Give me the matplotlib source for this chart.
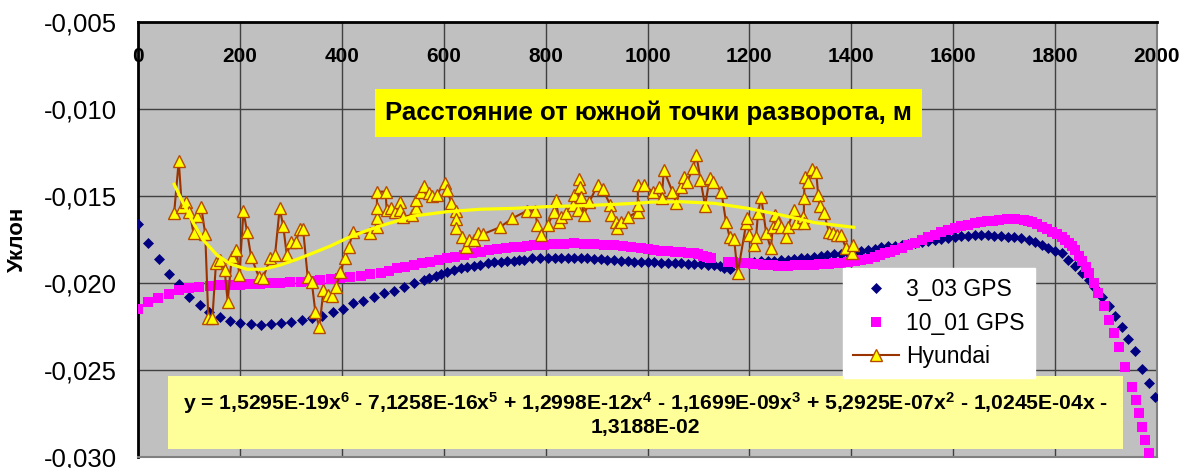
import matplotlib
matplotlib.use('Agg')
import matplotlib.pyplot as plt
from matplotlib.patches import Rectangle

plt.rcParams['font.family'] = ['Liberation Sans', 'DejaVu Sans']
plt.rcParams['mathtext.default'] = 'regular'

# axis ticks
x_ticks = [0, 200, 400, 600, 800, 1000, 1200, 1400, 1600, 1800, 2000]
y_ticks = [-0.030, -0.025, -0.020, -0.015, -0.010, -0.005]
y_tick_labels = ['-0,030', '-0,025', '-0,020', '-0,015', '-0,010', '-0,005']

# 3_03 GPS (navy diamonds)
gps3_x = [0, 20, 41, 61, 81, 100, 121, 140, 160, 180, 201, 222, 242, 262, 281, 301, 321, 342,
          362, 382, 402, 422, 442, 463, 482, 502, 522, 541, 562, 572, 584, 595, 607, 620, 633,
          646, 659, 672, 686, 699, 712, 725, 738, 748, 758, 774, 789, 804, 818, 830, 843, 856,
          869, 882, 895, 908, 921, 935, 948, 961, 974, 987, 1000, 1013, 1026, 1040, 1053, 1066,
          1079, 1092, 1105, 1118, 1131, 1142, 1150, 1162, 1209, 1222, 1236, 1249, 1262, 1275,
          1288, 1301, 1314, 1327, 1340, 1353, 1367, 1380, 1394, 1407, 1420, 1433, 1446, 1459,
          1472, 1486, 1499, 1512, 1525, 1538, 1551, 1564, 1577, 1590, 1603, 1616, 1629, 1642,
          1655, 1668, 1681, 1694, 1707, 1720, 1733, 1748, 1761, 1774, 1787, 1800, 1813, 1826,
          1839, 1853, 1866, 1879, 1892, 1905, 1918, 1931, 1944, 1957, 1970, 1984, 1997]
gps3_y = [-0.01661, -0.01768, -0.01864, -0.01950, -0.02006, -0.02082, -0.02125, -0.02165,
          -0.02194, -0.02217, -0.02232, -0.02237, -0.02243, -0.02236, -0.02232, -0.02224,
          -0.02214, -0.02201, -0.02188, -0.02167, -0.02148, -0.02117, -0.02102, -0.02079,
          -0.02059, -0.02044, -0.02021, -0.02002, -0.01983, -0.01972, -0.01960, -0.01948,
          -0.01935, -0.01925, -0.01916, -0.01909, -0.01902, -0.01894, -0.01887, -0.01882,
          -0.01878, -0.01875, -0.01872, -0.01870, -0.01868, -0.01858, -0.01858, -0.01858,
          -0.01857, -0.01858, -0.01858, -0.01858, -0.01857, -0.01858, -0.01861, -0.01864,
          -0.01866, -0.01870, -0.01872, -0.01874, -0.01877, -0.01879, -0.01880, -0.01882,
          -0.01883, -0.01884, -0.01886, -0.01887, -0.01889, -0.01890, -0.01892, -0.01895,
          -0.01898, -0.01905, -0.01916, -0.01918, -0.01878, -0.01876, -0.01874, -0.01872,
          -0.01870, -0.01866, -0.01862, -0.01858, -0.01855, -0.01850, -0.01846, -0.01841,
          -0.01836, -0.01831, -0.01826, -0.01822, -0.01818, -0.01812, -0.01803, -0.01795,
          -0.01790, -0.01786, -0.01780, -0.01774, -0.01768, -0.01763, -0.01758, -0.01752,
          -0.01747, -0.01742, -0.01737, -0.01732, -0.01728, -0.01724, -0.01723, -0.01725,
          -0.01728, -0.01730, -0.01733, -0.01735, -0.01742, -0.01752, -0.01766, -0.01783,
          -0.01801, -0.01815, -0.01829, -0.01865, -0.01900, -0.01944, -0.01985, -0.02030,
          -0.02079, -0.02135, -0.02190, -0.02251, -0.02320, -0.02390, -0.02495, -0.02575,
          -0.02653]

# 10_01 GPS (magenta squares)
gps10_x = [0, 20, 40, 60, 81, 100, 120, 142, 161, 181, 201, 220, 240, 260, 279, 299, 319, 338,
           358, 378, 397, 417, 437, 456, 476, 492, 509, 525, 541, 558, 574, 590, 607, 623, 640,
           656, 673, 689, 705, 722, 738, 751, 764, 777, 797, 817, 836, 856, 876, 895, 915, 935,
           951, 968, 987, 1000, 1013, 1026, 1040, 1053, 1066, 1079, 1092, 1100, 1109, 1117,
           1125, 1158, 1167, 1177, 1197, 1207, 1216, 1226, 1236, 1246, 1256, 1266, 1276, 1289,
           1302, 1315, 1327, 1337, 1347, 1357, 1367, 1380, 1394, 1407, 1420, 1433, 1446, 1456,
           1466, 1476, 1486, 1499, 1512, 1525, 1538, 1551, 1564, 1577, 1590, 1603, 1616, 1630,
           1643, 1655, 1666, 1678, 1689, 1705, 1721, 1738, 1746, 1754, 1764, 1774, 1784, 1794,
           1804, 1813, 1820, 1827, 1834, 1840, 1847, 1853, 1860, 1866, 1876, 1885, 1895, 1905,
           1915, 1925, 1938, 1951, 1958, 1964, 1971, 1977, 1984, 1990]
gps10_y = [-0.02149, -0.02111, -0.02088, -0.02063, -0.02040, -0.02027, -0.02021, -0.02016,
           -0.02013, -0.02011, -0.02010, -0.02008, -0.02006, -0.02002, -0.01998, -0.01996,
           -0.01993, -0.01987, -0.01983, -0.01979, -0.01973, -0.01967, -0.01960, -0.01950,
           -0.01941, -0.01930, -0.01916, -0.01906, -0.01897, -0.01887, -0.01878, -0.01868,
           -0.01858, -0.01848, -0.01839, -0.01830, -0.01820, -0.01813, -0.01806, -0.01800,
           -0.01795, -0.01791, -0.01787, -0.01782, -0.01779, -0.01776, -0.01774, -0.01772,
           -0.01774, -0.01776, -0.01779, -0.01782, -0.01786, -0.01791, -0.01801, -0.01806,
           -0.01810, -0.01814, -0.01817, -0.01820, -0.01822, -0.01825, -0.01829, -0.01836,
           -0.01843, -0.01850, -0.01858, -0.01878, -0.01880, -0.01883, -0.01887, -0.01890,
           -0.01892, -0.01895, -0.01897, -0.01899, -0.01900, -0.01900, -0.01900, -0.01899,
           -0.01897, -0.01896, -0.01895, -0.01892, -0.01890, -0.01888, -0.01887, -0.01884,
           -0.01880, -0.01875, -0.01868, -0.01860, -0.01850, -0.01840, -0.01830, -0.01820,
           -0.01810, -0.01796, -0.01782, -0.01768, -0.01753, -0.01738, -0.01723, -0.01709,
           -0.01695, -0.01685, -0.01675, -0.01666, -0.01657, -0.01651, -0.01645, -0.01641,
           -0.01638, -0.01635, -0.01634, -0.01640, -0.01645, -0.01650, -0.01662, -0.01676,
           -0.01690, -0.01705, -0.01719, -0.01734, -0.01752, -0.01770, -0.01790, -0.01810,
           -0.01842, -0.01875, -0.01910, -0.01944, -0.02000, -0.02059, -0.02135, -0.02213,
           -0.02290, -0.02366, -0.02481, -0.02596, -0.02670, -0.02749, -0.02825, -0.02902,
           -0.02979, -0.03060]

# Hyundai (brown line, yellow triangles)
hy_x = [71, 80, 86, 94, 101, 109, 115, 124, 132, 138, 146, 153, 161, 170, 176, 184, 193, 199,
        207, 214, 222, 237, 245, 260, 269, 278, 285, 292, 300, 310, 317, 324, 333, 341, 348,
        356, 364, 373, 381, 389, 397, 406, 414, 422, 456, 469, 469, 469, 469, 486, 488, 496,
        505, 515, 515, 520, 538, 546, 546, 555, 562, 571, 577, 586, 602, 607, 615, 624, 625,
        625, 636, 644, 650, 659, 667, 678, 710, 735, 764, 779, 784, 791, 804, 817, 820, 827,
        830, 840, 853, 856, 863, 866, 868, 869, 875, 886, 902, 912, 927, 929, 938, 941, 948,
        961, 981, 981, 981, 993, 1010, 1023, 1028, 1032, 1049, 1056, 1065, 1072, 1078, 1089,
        1096, 1104, 1113, 1122, 1128, 1145, 1154, 1161, 1170, 1177, 1194, 1196, 1200, 1209,
        1213, 1217, 1223, 1233, 1242, 1246, 1251, 1256, 1262, 1272, 1276, 1287, 1292, 1305,
        1307, 1307, 1309, 1315, 1322, 1331, 1335, 1338, 1346, 1356, 1364, 1371, 1379, 1390,
        1402, 1404]
hy_y = [-0.01596, -0.01297, -0.01561, -0.01533, -0.01590, -0.01714, -0.01615, -0.01561,
        -0.01720, -0.02203, -0.02203, -0.01887, -0.01868, -0.01925, -0.02107, -0.01849,
        -0.01810, -0.01954, -0.01586, -0.01705, -0.01849, -0.01964, -0.01973, -0.01858,
        -0.01839, -0.01571, -0.01672, -0.01839, -0.01763, -0.01766, -0.01691, -0.01691,
        -0.01964, -0.01992, -0.02165, -0.02255, -0.02040, -0.02069, -0.02075, -0.02021,
        -0.01935, -0.01858, -0.01791, -0.01705, -0.01714, -0.01680, -0.01628, -0.01571,
        -0.01475, -0.01475, -0.01580, -0.01571, -0.01590, -0.01533, -0.01580, -0.01620,
        -0.01609, -0.01571, -0.01523, -0.01479, -0.01443, -0.01484, -0.01500, -0.01494,
        -0.01423, -0.01466, -0.01542, -0.01584, -0.01634, -0.01686, -0.01734, -0.01791,
        -0.01753, -0.01753, -0.01711, -0.01718, -0.01680, -0.01628, -0.01584, -0.01584,
        -0.01667, -0.01724, -0.01667, -0.01590, -0.01523, -0.01648, -0.01622, -0.01600,
        -0.01552, -0.01494, -0.01580, -0.01404, -0.01446, -0.01504, -0.01609, -0.01533,
        -0.01437, -0.01461, -0.01552, -0.01609, -0.01648, -0.01686, -0.01648, -0.01622,
        -0.01590, -0.01552, -0.01437, -0.01437, -0.01475, -0.01446, -0.01513, -0.01351,
        -0.01475, -0.01542, -0.01450, -0.01389, -0.01418, -0.01341, -0.01264, -0.01408,
        -0.01557, -0.01398, -0.01418, -0.01475, -0.01648, -0.01734, -0.01749, -0.01944,
        -0.01653, -0.01628, -0.01724, -0.01782, -0.01737, -0.01596, -0.01504, -0.01714,
        -0.01801, -0.01680, -0.01609, -0.01657, -0.01676, -0.01734, -0.01676, -0.01580,
        -0.01657, -0.01619, -0.01657, -0.01513, -0.01389, -0.01418, -0.01347, -0.01360,
        -0.01494, -0.01557, -0.01596, -0.01705, -0.01714, -0.01724, -0.01724, -0.01801,
        -0.01829, -0.01782]

# Hyundai polynomial trend (yellow)
trend_x = [71, 89, 109, 128, 155, 181, 214, 246, 279, 312, 345, 378, 410, 443, 476, 541, 607,
           673, 738, 804, 869, 935, 987, 1007, 1066, 1131, 1197, 1262, 1328, 1405]
trend_y = [-0.01433, -0.01542, -0.01657, -0.01753, -0.01839, -0.01891, -0.01921, -0.01921,
           -0.01897, -0.01864, -0.01826, -0.01787, -0.01743, -0.01705, -0.01672, -0.01615,
           -0.01590, -0.01576, -0.01571, -0.01561, -0.01556, -0.01548, -0.01540, -0.01535,
           -0.01533, -0.01542, -0.01571, -0.01609, -0.01653, -0.01680]

x_title = 'Расстояние от южной точки разворота, м'
y_title = 'Уклон'
eq_line1 = ('y = 1,5295E-19x$^{6}$ - 7,1258E-16x$^{5}$ + 1,2998E-12x$^{4}$ - '
            '1,1699E-09x$^{3}$ + 5,2925E-07x$^{2}$ - 1,0245E-04x -')
eq_line2 = '1,3188E-02'

W, H = 1184, 468
fig = plt.figure(figsize=(W / 100, H / 100), dpi=100)
ax = fig.add_axes([138 / W, 11 / H, 1019 / W, 435 / H])
ax.set_facecolor('#C0C0C0')

ax.plot(gps3_x, gps3_y, ls='none', marker='D', ms=5.6, mfc='#000080', mec='#000080',
        mew=0.5, label='3_03 GPS', zorder=3)
ax.plot(gps10_x, gps10_y, ls='none', marker='s', ms=7.2, mfc='#FF00FF', mec='#FF00FF',
        mew=0, label='10_01 GPS', zorder=3)
ax.plot(hy_x, hy_y, color='#993300', lw=1.5, marker='^', ms=8, mfc='#FFFF00',
        mec='#B84A00', mew=1, label='Hyundai', zorder=4)
ax.plot(trend_x, trend_y, color='#FFFF00', lw=2.3, zorder=5)

ax.set_xlim(0, 2000)
ax.set_ylim(-0.030, -0.005)
ax.set_xticks(x_ticks)
ax.set_xticklabels([str(v) for v in x_ticks], fontsize=15, fontweight='bold')
ax.set_yticks(y_ticks)
ax.set_yticklabels(y_tick_labels, fontsize=18.5)
ax.xaxis.tick_top()
ax.tick_params(axis='x', length=0, pad=-32)
ax.tick_params(axis='y', length=0, pad=15)
ax.grid(True, color='#404040', lw=1.0)
ax.set_axisbelow(True)

for s in ['left', 'top']:
    ax.spines[s].set_color('black')
    ax.spines[s].set_linewidth(2)
for s in ['right', 'bottom']:
    ax.spines[s].set_color('#808080')
    ax.spines[s].set_linewidth(1.5)

ax.set_ylabel(y_title, fontsize=16, fontweight='bold', va='center')
ax.yaxis.set_label_coords(-0.118, 0.5)

# x axis title box inside the plot
ax.add_patch(Rectangle((0.2326, 0.7356), 0.5368, 0.1103, transform=ax.transAxes,
                       facecolor='#FFFF00', edgecolor='none', zorder=6))
ax.text(0.501, 0.791, x_title, transform=ax.transAxes, ha='center', va='center',
        fontsize=18.5, fontweight='bold', zorder=7)

# trend equation box
ax.add_patch(Rectangle((0.0294, 0.0184), 0.9372, 0.1678, transform=ax.transAxes,
                       facecolor='#FFFF99', edgecolor='none', zorder=6))
ax.text(0.498, (457 - 403) / 435, eq_line1, transform=ax.transAxes, ha='center',
        va='center', fontsize=15.2, fontweight='bold', zorder=7)
ax.text(0.498, (457 - 428) / 435, eq_line2, transform=ax.transAxes, ha='center',
        va='center', fontsize=15.2, fontweight='bold', zorder=7)

leg = ax.legend(loc='upper left', bbox_to_anchor=((843 - 138) / 1019, (457 - 268) / 435),
                borderaxespad=0, fancybox=False, facecolor='white', edgecolor='white',
                framealpha=1, fontsize=16.5, handlelength=2.0, handletextpad=0.3,
                borderpad=0.45, labelspacing=0.45)
leg.set_zorder(8)

fig.savefig('out.png', dpi=100)
